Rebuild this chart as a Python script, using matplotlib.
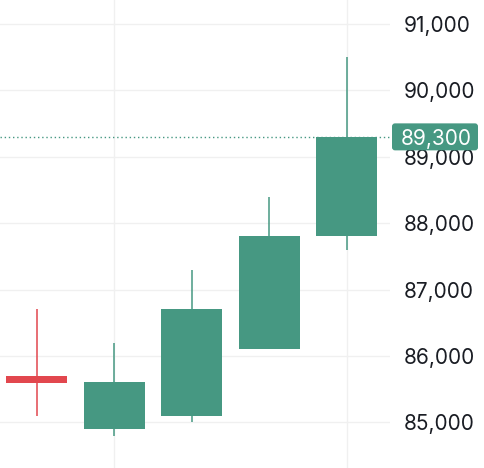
import matplotlib
matplotlib.use("Agg")
import matplotlib.pyplot as plt
from matplotlib.patches import FancyBboxPatch
from matplotlib.ticker import FuncFormatter

# OHLC candles
opens = [85700, 84900, 85100, 86100, 87800]
highs = [86700, 86200, 87300, 88400, 90500]
lows = [85100, 84800, 85000, 86100, 87600]
closes = [85590, 85600, 86700, 87800, 89300]
last_price = 89300
price_ticks = [85000, 86000, 87000, 88000, 89000, 90000, 91000]

up_color = "#469882"
down_color = "#e2474e"
grid_color = "#f0f0f0"
text_color = "#1a1d24"

plt.rcParams['font.family'] = ['Inter', 'DejaVu Sans']

fig = plt.figure(figsize=(4.84, 4.68), dpi=100)
ax = fig.add_axes([0, 0, 390 / 484, 1])

body_w = 0.787
for i, (o, h, l, c) in enumerate(zip(opens, highs, lows, closes)):
    col = up_color if c >= o else down_color
    ax.vlines(i, l, h, color=col, linewidth=1.1, zorder=2)
    lo, hi = min(o, c), max(o, c)
    ax.bar(i, hi - lo, bottom=lo, width=body_w, color=col, zorder=3)

# last price line
ax.axhline(last_price, color=up_color, linestyle=(0, (1, 2)), linewidth=1, zorder=1)

ax.set_xlim(-0.471, 4.561)
ax.set_ylim(84311, 91362)

ax.set_xticks([1, 4])
ax.set_yticks(price_ticks)
ax.grid(True, color=grid_color, linewidth=1, zorder=0)
ax.set_axisbelow(True)
ax.tick_params(axis='x', length=0, labelbottom=False)
ax.yaxis.tick_right()
ax.tick_params(axis='y', length=0, pad=10, labelsize=15, labelcolor=text_color)
ax.yaxis.set_major_formatter(FuncFormatter(lambda v, p: f"{v:,.0f}"))
for s in ax.spines.values():
    s.set_visible(False)

# price label on the axis (box drawn in pixel coords)
fig.canvas.draw()
_, py = ax.transData.transform((0, last_price))
box = FancyBboxPatch((392, py - 13.5), 86, 27, boxstyle='round,pad=0,rounding_size=3',
                     transform=None, fc=up_color, ec='none', clip_on=False)
fig.add_artist(box)
fig.text(436 / 484, py / 468, f"{last_price:,}", ha='center', va='center_baseline',
         color='white', fontsize=15)

fig.savefig("out.png", dpi=100)
